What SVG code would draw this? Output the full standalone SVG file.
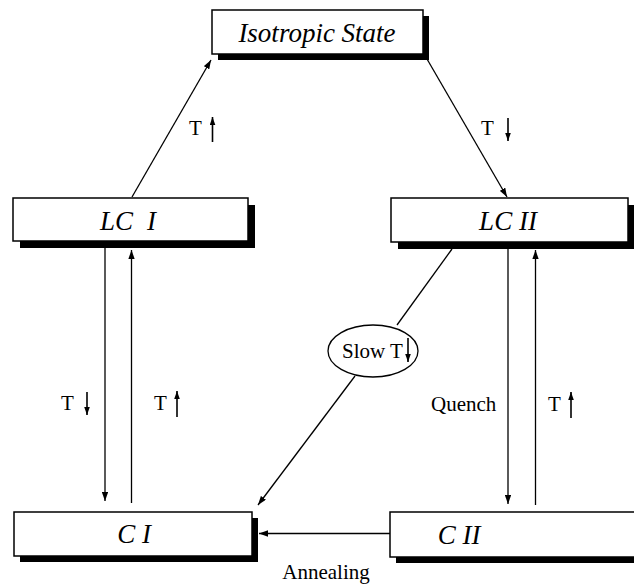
<svg xmlns="http://www.w3.org/2000/svg" width="634" height="585" viewBox="0 0 634 585">
<style>
.box{fill:#fff;stroke:#000;stroke-width:1.5}
.sh{fill:#000}
.nt{font-family:"Liberation Serif",serif;font-style:italic;font-size:27px;fill:#000}
.lb{font-family:"Liberation Serif",serif;font-size:21px;fill:#000}
.ln{stroke:#000;stroke-width:1.3;fill:none}
.la{stroke:#000;stroke-width:1.6;fill:none}
</style>
<defs>
<marker id="ah" viewBox="0 0 10 7" refX="10" refY="3.5" markerUnits="userSpaceOnUse" markerWidth="9" markerHeight="6.5" orient="auto">
<path d="M0,0 L10,3.5 L0,7 z" fill="#000"/>
</marker>
<marker id="sa" viewBox="0 0 10 7" refX="10" refY="3.5" markerUnits="userSpaceOnUse" markerWidth="8" markerHeight="6" orient="auto">
<path d="M0,0 L10,3.5 L0,7 z" fill="#000"/>
</marker>
</defs>
<rect width="634" height="585" fill="#fff"/>
<g id="connectors">
<line class="ln" x1="132" y1="197" x2="211" y2="60" marker-end="url(#ah)"/>
<line class="ln" x1="427" y1="59" x2="507" y2="197" marker-end="url(#ah)"/>
<line class="ln" x1="105" y1="248" x2="105" y2="501" marker-end="url(#ah)"/>
<line class="ln" x1="131.5" y1="503" x2="131.5" y2="250" marker-end="url(#ah)"/>
<line class="ln" x1="508" y1="249" x2="508" y2="504" marker-end="url(#ah)"/>
<line class="ln" x1="535.5" y1="505" x2="535.5" y2="250" marker-end="url(#ah)"/>
<line class="ln" x1="452" y1="249" x2="397" y2="325"/>
<line class="ln" x1="355" y1="376" x2="258" y2="505" marker-end="url(#ah)"/>
<line class="ln" x1="390" y1="533.5" x2="259" y2="533.5" marker-end="url(#ah)"/>
</g>
<g id="isotropic">
<rect class="sh" x="218" y="16" width="211" height="44"/>
<rect class="box" x="212" y="10" width="211" height="44"/>
<text class="nt" x="317" y="41.5" text-anchor="middle">Isotropic State</text>
</g>
<g id="lc1">
<rect class="sh" x="20" y="205" width="235" height="43"/>
<rect class="box" x="13" y="198" width="235" height="43"/>
<text class="nt" y="229.5"><tspan x="100">LC</tspan><tspan x="147">I</tspan></text>
</g>
<g id="lc2">
<rect class="sh" x="398" y="205" width="237" height="44"/>
<rect class="box" x="391" y="198" width="237" height="44"/>
<text class="nt" x="508" y="230" text-anchor="middle">LC II</text>
</g>
<g id="c1">
<rect class="sh" x="20" y="518" width="238" height="44"/>
<rect class="box" x="14" y="512" width="238" height="44"/>
<text class="nt" x="134" y="543" text-anchor="middle">C I</text>
</g>
<g id="c2">
<rect class="sh" x="396" y="518" width="250" height="45"/>
<rect class="box" x="390" y="512" width="250" height="45"/>
<text class="nt" x="459" y="544" text-anchor="middle">C II</text>
</g>
<g id="slow">
<ellipse cx="373" cy="351" rx="45" ry="26" fill="#fff" stroke="#000" stroke-width="1.3"/>
<text class="lb" x="342" y="358" font-size="20">Slow T</text>
<line class="la" x1="408" y1="338" x2="408" y2="362" marker-end="url(#sa)"/>
</g>
<g id="labels">
<text class="lb" x="189" y="135">T</text>
<line class="la" x1="212.5" y1="142" x2="212.5" y2="117" marker-end="url(#sa)"/>
<text class="lb" x="481" y="135">T</text>
<line class="la" x1="508" y1="118" x2="508" y2="141" marker-end="url(#sa)"/>
<text class="lb" x="61" y="410">T</text>
<line class="la" x1="87" y1="392" x2="87" y2="415" marker-end="url(#sa)"/>
<text class="lb" x="154" y="410">T</text>
<line class="la" x1="177" y1="417" x2="177" y2="391" marker-end="url(#sa)"/>
<text class="lb" x="431" y="411">Quench</text>
<text class="lb" x="548" y="411">T</text>
<line class="la" x1="571" y1="418" x2="571" y2="392" marker-end="url(#sa)"/>
<text class="lb" x="326" y="579" text-anchor="middle">Annealing</text>
</g>
</svg>
